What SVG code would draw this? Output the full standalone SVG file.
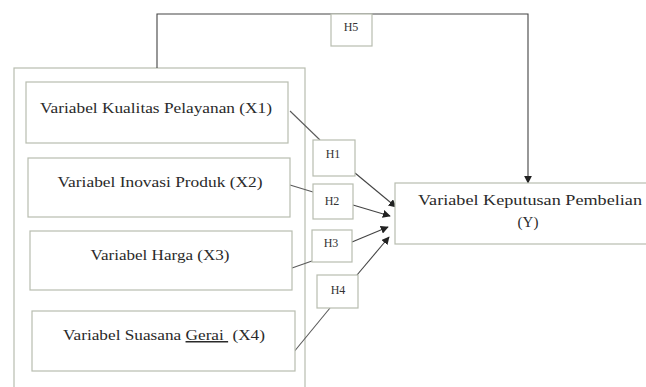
<svg xmlns="http://www.w3.org/2000/svg" width="646" height="387" viewBox="0 0 646 387">
<defs>
<marker id="ah" viewBox="0 0 10 10" refX="9" refY="5" markerWidth="8" markerHeight="8" markerUnits="userSpaceOnUse" orient="auto">
<path d="M0,0 L10,5 L0,10 z" fill="#222"/>
</marker>
<style>
.box{fill:#fff;stroke:#b8bdb0;stroke-width:1.2}
.hb{fill:#fff;stroke:#b8bdb0;stroke-width:1.2}
text{font-family:"Times New Roman","Liberation Serif",Tinos,"DejaVu Serif",serif}
.t{font-size:15px;fill:#2a2a2a;text-anchor:middle}
.h{font-size:12px;fill:#333;text-anchor:middle}
.ln{fill:none;stroke:#5a5a5a;stroke-width:1.1}
.ar{fill:none;stroke:#444;stroke-width:1.1;marker-end:url(#ah)}
</style>
</defs>
<rect width="646" height="387" fill="#fff"/>
<g id="container"><rect class="box" x="14" y="68" width="291" height="330"/></g>
<g id="connectors">
<polyline class="ar" points="157,68 157,14 528,14 528,183"/>
<line class="ln" x1="290" y1="111" x2="320" y2="140"/>
<line class="ar" x1="355" y1="173" x2="396" y2="207"/>
<line class="ln" x1="290" y1="185" x2="313" y2="192"/>
<line class="ar" x1="353" y1="205" x2="390" y2="216"/>
<line class="ln" x1="292" y1="268" x2="312" y2="261"/>
<line class="ar" x1="352" y1="242" x2="388" y2="227"/>
<line class="ln" x1="293" y1="353" x2="330" y2="308"/>
<line class="ar" x1="357" y1="275" x2="389" y2="237"/>
</g>
<g id="x1"><rect class="box" x="26" y="82" width="262" height="61"/><text class="t" x="156" y="113" textLength="232" lengthAdjust="spacingAndGlyphs">Variabel Kualitas Pelayanan (X1)</text></g>
<g id="x2"><rect class="box" x="28" y="158" width="262" height="59"/><text class="t" x="160" y="187" textLength="205" lengthAdjust="spacingAndGlyphs">Variabel Inovasi Produk (X2)</text></g>
<g id="x3"><rect class="box" x="30" y="231" width="262" height="59"/><text class="t" x="160" y="260" textLength="139" lengthAdjust="spacingAndGlyphs">Variabel Harga (X3)</text></g>
<g id="x4"><rect class="box" x="32" y="311" width="263" height="60"/><text class="t" x="164" y="340" textLength="202" lengthAdjust="spacingAndGlyphs" xml:space="preserve">Variabel Suasana <tspan text-decoration="underline">Gerai </tspan> (X4)</text></g>
<g id="y"><rect class="box" x="395" y="183" width="260" height="61"/><text class="t" x="530" y="205" textLength="224" lengthAdjust="spacingAndGlyphs">Variabel Keputusan Pembelian</text><text class="t" x="528" y="227">(Y)</text></g>
<g id="h5"><rect class="hb" x="331" y="14" width="41" height="32"/><text class="h" x="351" y="31" font-size="11">H5</text></g>
<g id="h1"><rect class="hb" x="313" y="140" width="42" height="36"/><text class="h" x="333" y="158">H1</text></g>
<g id="h2"><rect class="hb" x="313" y="184" width="40" height="35"/><text class="h" x="332" y="205">H2</text></g>
<g id="h3"><rect class="hb" x="312" y="230" width="40" height="32"/><text class="h" x="331" y="247">H3</text></g>
<g id="h4"><rect class="hb" x="317" y="275" width="41" height="33"/><text class="h" x="338" y="294">H4</text></g>
</svg>
